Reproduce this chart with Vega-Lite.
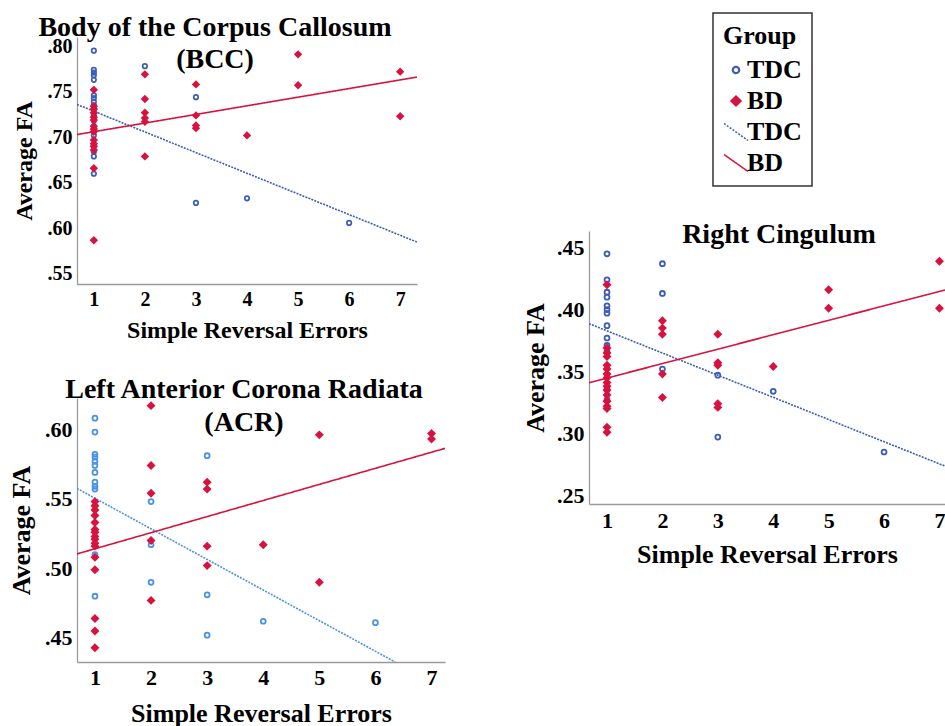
{
  "$schema": "https://vega.github.io/schema/vega-lite/v6.json",
  "padding": {"left": 8, "top": 12, "right": 0, "bottom": 0},
  "background": "white",
  "datasets": {
    "bcc_pts": [
      {"errors": 1, "fa": 0.795, "group": "TDC"}, {"errors": 1, "fa": 0.774, "group": "TDC"}, {"errors": 1, "fa": 0.771, "group": "TDC"}, {"errors": 1, "fa": 0.768, "group": "TDC"}, {"errors": 1, "fa": 0.763, "group": "TDC"}, {"errors": 1, "fa": 0.746, "group": "TDC"}, {"errors": 1, "fa": 0.743, "group": "TDC"}, {"errors": 1, "fa": 0.739, "group": "TDC"}, {"errors": 1, "fa": 0.735, "group": "TDC"}, {"errors": 1, "fa": 0.730, "group": "TDC"}, {"errors": 1, "fa": 0.724, "group": "TDC"}, {"errors": 1, "fa": 0.718, "group": "TDC"}, {"errors": 1, "fa": 0.712, "group": "TDC"}, {"errors": 1, "fa": 0.708, "group": "TDC"}, {"errors": 1, "fa": 0.702, "group": "TDC"}, {"errors": 1, "fa": 0.690, "group": "TDC"}, {"errors": 1, "fa": 0.684, "group": "TDC"}, {"errors": 1, "fa": 0.679, "group": "TDC"}, {"errors": 1, "fa": 0.660, "group": "TDC"},
      {"errors": 2, "fa": 0.778, "group": "TDC"}, {"errors": 3, "fa": 0.744, "group": "TDC"}, {"errors": 3, "fa": 0.628, "group": "TDC"}, {"errors": 4, "fa": 0.633, "group": "TDC"}, {"errors": 6, "fa": 0.606, "group": "TDC"},
      {"errors": 1, "fa": 0.752, "group": "BD"}, {"errors": 1, "fa": 0.734, "group": "BD"}, {"errors": 1, "fa": 0.731, "group": "BD"}, {"errors": 1, "fa": 0.727, "group": "BD"}, {"errors": 1, "fa": 0.722, "group": "BD"}, {"errors": 1, "fa": 0.719, "group": "BD"}, {"errors": 1, "fa": 0.712, "group": "BD"}, {"errors": 1, "fa": 0.709, "group": "BD"}, {"errors": 1, "fa": 0.706, "group": "BD"}, {"errors": 1, "fa": 0.697, "group": "BD"}, {"errors": 1, "fa": 0.693, "group": "BD"}, {"errors": 1, "fa": 0.690, "group": "BD"}, {"errors": 1, "fa": 0.686, "group": "BD"}, {"errors": 1, "fa": 0.666, "group": "BD"}, {"errors": 1, "fa": 0.587, "group": "BD"},
      {"errors": 2, "fa": 0.769, "group": "BD"}, {"errors": 2, "fa": 0.742, "group": "BD"}, {"errors": 2, "fa": 0.727, "group": "BD"}, {"errors": 2, "fa": 0.721, "group": "BD"}, {"errors": 2, "fa": 0.717, "group": "BD"}, {"errors": 2, "fa": 0.679, "group": "BD"},
      {"errors": 3, "fa": 0.758, "group": "BD"}, {"errors": 3, "fa": 0.724, "group": "BD"}, {"errors": 3, "fa": 0.713, "group": "BD"}, {"errors": 3, "fa": 0.710, "group": "BD"},
      {"errors": 4, "fa": 0.702, "group": "BD"}, {"errors": 5, "fa": 0.791, "group": "BD"}, {"errors": 5, "fa": 0.757, "group": "BD"}, {"errors": 7, "fa": 0.772, "group": "BD"}, {"errors": 7, "fa": 0.723, "group": "BD"}
    ],
    "bcc_fit": [
      {"errors": 0.67, "fa": 0.736, "group": "TDC fit"}, {"errors": 7.33, "fa": 0.585, "group": "TDC fit"},
      {"errors": 0.67, "fa": 0.703, "group": "BD fit"}, {"errors": 7.33, "fa": 0.766, "group": "BD fit"}
    ],
    "acr_pts": [
      {"errors": 1, "fa": 0.608, "group": "TDC"}, {"errors": 1, "fa": 0.598, "group": "TDC"}, {"errors": 1, "fa": 0.582, "group": "TDC"}, {"errors": 1, "fa": 0.580, "group": "TDC"}, {"errors": 1, "fa": 0.577, "group": "TDC"}, {"errors": 1, "fa": 0.574, "group": "TDC"}, {"errors": 1, "fa": 0.569, "group": "TDC"}, {"errors": 1, "fa": 0.562, "group": "TDC"}, {"errors": 1, "fa": 0.559, "group": "TDC"}, {"errors": 1, "fa": 0.557, "group": "TDC"}, {"errors": 1, "fa": 0.510, "group": "TDC"}, {"errors": 1, "fa": 0.480, "group": "TDC"},
      {"errors": 2, "fa": 0.548, "group": "TDC"}, {"errors": 2, "fa": 0.517, "group": "TDC"}, {"errors": 2, "fa": 0.490, "group": "TDC"},
      {"errors": 3, "fa": 0.581, "group": "TDC"}, {"errors": 3, "fa": 0.481, "group": "TDC"}, {"errors": 3, "fa": 0.452, "group": "TDC"},
      {"errors": 4, "fa": 0.462, "group": "TDC"}, {"errors": 6, "fa": 0.461, "group": "TDC"},
      {"errors": 1, "fa": 0.548, "group": "BD"}, {"errors": 1, "fa": 0.545, "group": "BD"}, {"errors": 1, "fa": 0.542, "group": "BD"}, {"errors": 1, "fa": 0.538, "group": "BD"}, {"errors": 1, "fa": 0.533, "group": "BD"}, {"errors": 1, "fa": 0.528, "group": "BD"}, {"errors": 1, "fa": 0.526, "group": "BD"}, {"errors": 1, "fa": 0.523, "group": "BD"}, {"errors": 1, "fa": 0.521, "group": "BD"}, {"errors": 1, "fa": 0.518, "group": "BD"}, {"errors": 1, "fa": 0.516, "group": "BD"}, {"errors": 1, "fa": 0.508, "group": "BD"}, {"errors": 1, "fa": 0.499, "group": "BD"}, {"errors": 1, "fa": 0.464, "group": "BD"}, {"errors": 1, "fa": 0.455, "group": "BD"}, {"errors": 1, "fa": 0.443, "group": "BD"},
      {"errors": 2, "fa": 0.617, "group": "BD"}, {"errors": 2, "fa": 0.574, "group": "BD"}, {"errors": 2, "fa": 0.554, "group": "BD"}, {"errors": 2, "fa": 0.520, "group": "BD"}, {"errors": 2, "fa": 0.477, "group": "BD"},
      {"errors": 3, "fa": 0.562, "group": "BD"}, {"errors": 3, "fa": 0.557, "group": "BD"}, {"errors": 3, "fa": 0.516, "group": "BD"}, {"errors": 3, "fa": 0.502, "group": "BD"},
      {"errors": 4, "fa": 0.517, "group": "BD"}, {"errors": 5, "fa": 0.596, "group": "BD"}, {"errors": 5, "fa": 0.490, "group": "BD"}, {"errors": 7, "fa": 0.597, "group": "BD"}, {"errors": 7, "fa": 0.593, "group": "BD"}
    ],
    "acr_fit": [
      {"errors": 0.68, "fa": 0.5575, "group": "TDC fit"}, {"errors": 6.35, "fa": 0.4327, "group": "TDC fit"},
      {"errors": 0.68, "fa": 0.5104, "group": "BD fit"}, {"errors": 7.24, "fa": 0.5863, "group": "BD fit"}
    ],
    "rc_pts": [
      {"errors": 1, "fa": 0.445, "group": "TDC"}, {"errors": 1, "fa": 0.424, "group": "TDC"}, {"errors": 1, "fa": 0.414, "group": "TDC"}, {"errors": 1, "fa": 0.410, "group": "TDC"}, {"errors": 1, "fa": 0.403, "group": "TDC"}, {"errors": 1, "fa": 0.400, "group": "TDC"}, {"errors": 1, "fa": 0.397, "group": "TDC"}, {"errors": 1, "fa": 0.387, "group": "TDC"}, {"errors": 1, "fa": 0.377, "group": "TDC"}, {"errors": 1, "fa": 0.371, "group": "TDC"}, {"errors": 1, "fa": 0.366, "group": "TDC"}, {"errors": 1, "fa": 0.335, "group": "TDC"}, {"errors": 1, "fa": 0.327, "group": "TDC"},
      {"errors": 2, "fa": 0.437, "group": "TDC"}, {"errors": 2, "fa": 0.413, "group": "TDC"}, {"errors": 2, "fa": 0.352, "group": "TDC"},
      {"errors": 3, "fa": 0.347, "group": "TDC"}, {"errors": 3, "fa": 0.297, "group": "TDC"}, {"errors": 4, "fa": 0.334, "group": "TDC"}, {"errors": 6, "fa": 0.285, "group": "TDC"},
      {"errors": 1, "fa": 0.420, "group": "BD"}, {"errors": 1, "fa": 0.369, "group": "BD"}, {"errors": 1, "fa": 0.365, "group": "BD"}, {"errors": 1, "fa": 0.362, "group": "BD"}, {"errors": 1, "fa": 0.355, "group": "BD"}, {"errors": 1, "fa": 0.352, "group": "BD"}, {"errors": 1, "fa": 0.348, "group": "BD"}, {"errors": 1, "fa": 0.345, "group": "BD"}, {"errors": 1, "fa": 0.341, "group": "BD"}, {"errors": 1, "fa": 0.338, "group": "BD"}, {"errors": 1, "fa": 0.335, "group": "BD"}, {"errors": 1, "fa": 0.331, "group": "BD"}, {"errors": 1, "fa": 0.326, "group": "BD"}, {"errors": 1, "fa": 0.322, "group": "BD"}, {"errors": 1, "fa": 0.320, "group": "BD"}, {"errors": 1, "fa": 0.305, "group": "BD"}, {"errors": 1, "fa": 0.301, "group": "BD"},
      {"errors": 2, "fa": 0.391, "group": "BD"}, {"errors": 2, "fa": 0.385, "group": "BD"}, {"errors": 2, "fa": 0.380, "group": "BD"}, {"errors": 2, "fa": 0.348, "group": "BD"}, {"errors": 2, "fa": 0.329, "group": "BD"},
      {"errors": 3, "fa": 0.380, "group": "BD"}, {"errors": 3, "fa": 0.357, "group": "BD"}, {"errors": 3, "fa": 0.355, "group": "BD"}, {"errors": 3, "fa": 0.324, "group": "BD"}, {"errors": 3, "fa": 0.321, "group": "BD"},
      {"errors": 4, "fa": 0.354, "group": "BD"}, {"errors": 5, "fa": 0.416, "group": "BD"}, {"errors": 5, "fa": 0.401, "group": "BD"}, {"errors": 7, "fa": 0.439, "group": "BD"}, {"errors": 7, "fa": 0.401, "group": "BD"}
    ],
    "rc_fit": [
      {"errors": 0.675, "fa": 0.3886, "group": "TDC fit"}, {"errors": 7.1, "fa": 0.2736, "group": "TDC fit"},
      {"errors": 0.675, "fa": 0.3409, "group": "BD fit"}, {"errors": 7.1, "fa": 0.4158, "group": "BD fit"}
    ]
  },
  "hconcat": [
    {
      "spacing": 34,
      "vconcat": [
        {
          "width": 340, "height": 247,
          "title": {"text": ["Body of the Corpus Callosum", "(BCC)"], "fontSize": 28, "lineHeight": 32, "offset": -38, "dx": -32},
          "layer": [
            {
              "data": {"name": "bcc_fit"},
              "mark": {"type": "line", "strokeWidth": 1.6, "clip": true},
              "encoding": {
                "x": {"field": "errors", "type": "quantitative", "scale": {"domain": [0.67, 7.33], "nice": false, "zero": false}, "axis": {"values": [1,2,3,4,5,6,7], "format": "d", "title": "Simple Reversal Errors", "labelFontSize": 20, "titleFontSize": 24, "labelPadding": 5, "titlePadding": 9}},
                "y": {"field": "fa", "type": "quantitative", "scale": {"domain": [0.539, 0.81], "nice": false, "zero": false}, "axis": {"values": [0.55,0.6,0.65,0.7,0.75,0.8], "labelExpr": "replace(format(datum.value, '.2f'), '0.', '.')", "title": "Average FA", "labelFontSize": 20, "titleFontSize": 24, "labelPadding": 5, "titlePadding": 11}},
                "color": {"field": "group", "type": "nominal", "scale": {"domain": ["TDC", "BD", "TDC fit", "BD fit"], "range": ["#3d5cb8", "#d8123e", "#3d5cb8", "#d8123e"]},
                  "legend": {"title": "Group", "orient": "none", "legendX": 636, "legendY": -24, "labelExpr": "replace(datum.label, ' fit', '')", "symbolSize": 36, "strokeColor": "#333333", "padding": 10, "rowPadding": 5, "titlePadding": 8, "labelOffset": -2,
                    "encode": {"symbols": {"update": {"size": {"signal": "datum.value === 'TDC' ? 40 : datum.value === 'BD' ? 150 : 100"}, "fill": {"signal": "datum.value === 'BD' ? '#d8123e' : 'transparent'"}, "strokeDash": {"signal": "datum.value === 'TDC fit' ? [2, 1.5] : [1, 0]"}, "strokeWidth": {"signal": "datum.value === 'TDC' ? 2.2 : datum.value === 'BD' ? 0 : 1.5"}}}}}},
                "strokeDash": {"condition": {"test": "datum.group === 'TDC fit'", "value": [2, 1.2]}, "value": [1, 0]}
              }
            },
            {
              "data": {"name": "bcc_pts"},
              "mark": {"type": "point", "filled": false, "strokeWidth": 1.7, "opacity": 1},
              "encoding": {
                "x": {"field": "errors", "type": "quantitative"},
                "y": {"field": "fa", "type": "quantitative"},
                "color": {"field": "group", "type": "nominal"},
                "shape": {"field": "group", "type": "nominal", "scale": {"domain": ["TDC", "BD", "TDC fit", "BD fit"], "range": ["circle", "diamond", "M-2.4,-1.7L2.4,1.7", "M-2.4,-1.7L2.4,1.7"]},
                  "legend": {"title": "Group", "orient": "none", "legendX": 636, "legendY": -24, "labelExpr": "replace(datum.label, ' fit', '')", "symbolSize": 36, "strokeColor": "#333333", "padding": 10, "rowPadding": 5, "titlePadding": 8, "labelOffset": -2,
                    "encode": {"symbols": {"update": {"size": {"signal": "datum.value === 'TDC' ? 40 : datum.value === 'BD' ? 150 : 100"}, "fill": {"signal": "datum.value === 'BD' ? '#d8123e' : 'transparent'"}, "strokeDash": {"signal": "datum.value === 'TDC fit' ? [2, 1.5] : [1, 0]"}, "strokeWidth": {"signal": "datum.value === 'TDC' ? 2.2 : datum.value === 'BD' ? 0 : 1.5"}}}}}},
                "fill": {"condition": {"test": "datum.group === 'BD'", "value": "#d8123e"}, "value": "transparent"},
                "size": {"condition": {"test": "datum.group === 'BD'", "value": 70}, "value": 20},
                "strokeWidth": {"condition": {"test": "datum.group === 'BD'", "value": 0}, "value": 1.7}
              }
            }
          ]
        },
        {
          "width": 368, "height": 264,
          "title": {"text": ["Left Anterior Corona Radiata", "(ACR)"], "fontSize": 28, "lineHeight": 33, "offset": -39, "dx": -17},
          "layer": [
            {
              "data": {"name": "acr_fit"},
              "mark": {"type": "line", "strokeWidth": 1.6, "clip": true},
              "encoding": {
                "x": {"field": "errors", "type": "quantitative", "scale": {"domain": [0.68, 7.24], "nice": false, "zero": false}, "axis": {"values": [1,2,3,4,5,6,7], "format": "d", "title": "Simple Reversal Errors", "labelFontSize": 22, "titleFontSize": 26, "labelPadding": 5, "titlePadding": 12}},
                "y": {"field": "fa", "type": "quantitative", "scale": {"domain": [0.4327, 0.6225], "nice": false, "zero": false}, "axis": {"values": [0.45,0.5,0.55,0.6], "labelExpr": "replace(format(datum.value, '.2f'), '0.', '.')", "title": "Average FA", "labelFontSize": 22, "titleFontSize": 26, "labelPadding": 5, "titlePadding": 10}},
                "detail": {"field": "group", "type": "nominal"},
                "color": {"condition": {"test": "datum.group === 'TDC fit'", "value": "#4a92e6"}, "value": "#d8123e"},
                "strokeDash": {"condition": {"test": "datum.group === 'TDC fit'", "value": [2, 1.2]}, "value": [1, 0]}
              }
            },
            {
              "data": {"name": "acr_pts"},
              "mark": {"type": "point", "filled": false, "opacity": 1},
              "encoding": {
                "x": {"field": "errors", "type": "quantitative"},
                "y": {"field": "fa", "type": "quantitative"},
                "color": {"condition": {"test": "datum.group === 'TDC'", "value": "#4a92e6"}, "value": "#d8123e"},
                "shape": {"field": "group", "type": "nominal",
                  "legend": {"title": "Group", "orient": "none", "legendX": 636, "legendY": -24, "labelExpr": "replace(datum.label, ' fit', '')", "symbolSize": 36, "strokeColor": "#333333", "padding": 10, "rowPadding": 5, "titlePadding": 8, "labelOffset": -2,
                    "encode": {"symbols": {"update": {"size": {"signal": "datum.value === 'TDC' ? 40 : datum.value === 'BD' ? 150 : 100"}, "fill": {"signal": "datum.value === 'BD' ? '#d8123e' : 'transparent'"}, "strokeDash": {"signal": "datum.value === 'TDC fit' ? [2, 1.5] : [1, 0]"}, "strokeWidth": {"signal": "datum.value === 'TDC' ? 2.2 : datum.value === 'BD' ? 0 : 1.5"}}}}}},
                "fill": {"condition": {"test": "datum.group === 'BD'", "value": "#d8123e"}, "value": "transparent"},
                "size": {"condition": {"test": "datum.group === 'BD'", "value": 80}, "value": 24},
                "strokeWidth": {"condition": {"test": "datum.group === 'BD'", "value": 0}, "value": 1.8}
              }
            }
          ]
        }
      ]
    },
    {
      "spacing": 10,
      "vconcat": [
        {
          "width": 100, "height": 174,
          "data": {"values": []},
          "mark": {"type": "point"},
          "encoding": {}
        },
        {
          "width": 356, "height": 273,
          "title": {"text": "Right Cingulum", "fontSize": 28, "offset": -18, "dx": 12},
          "layer": [
            {
              "data": {"name": "rc_fit"},
              "mark": {"type": "line", "strokeWidth": 1.6, "clip": true},
              "encoding": {
                "x": {"field": "errors", "type": "quantitative", "scale": {"domain": [0.675, 7.1], "nice": false, "zero": false}, "axis": {"values": [1,2,3,4,5,6,7], "format": "d", "title": "Simple Reversal Errors", "labelFontSize": 22, "titleFontSize": 26, "labelPadding": 6, "titlePadding": 10}},
                "y": {"field": "fa", "type": "quantitative", "scale": {"domain": [0.243, 0.4634], "nice": false, "zero": false}, "axis": {"values": [0.25,0.3,0.35,0.4,0.45], "labelExpr": "replace(format(datum.value, '.2f'), '0.', '.')", "title": "Average FA", "labelFontSize": 22, "titleFontSize": 26, "labelPadding": 5, "titlePadding": 8}},
                "color": {"field": "group", "type": "nominal",
                  "legend": {"title": "Group", "orient": "none", "legendX": 636, "legendY": -24, "labelExpr": "replace(datum.label, ' fit', '')", "symbolSize": 36, "strokeColor": "#333333", "padding": 10, "rowPadding": 5, "titlePadding": 8, "labelOffset": -2,
                    "encode": {"symbols": {"update": {"size": {"signal": "datum.value === 'TDC' ? 40 : datum.value === 'BD' ? 150 : 100"}, "fill": {"signal": "datum.value === 'BD' ? '#d8123e' : 'transparent'"}, "strokeDash": {"signal": "datum.value === 'TDC fit' ? [2, 1.5] : [1, 0]"}, "strokeWidth": {"signal": "datum.value === 'TDC' ? 2.2 : datum.value === 'BD' ? 0 : 1.5"}}}}}},
                "strokeDash": {"condition": {"test": "datum.group === 'TDC fit'", "value": [2, 1.2]}, "value": [1, 0]}
              }
            },
            {
              "data": {"name": "rc_pts"},
              "mark": {"type": "point", "filled": false, "opacity": 1},
              "encoding": {
                "x": {"field": "errors", "type": "quantitative"},
                "y": {"field": "fa", "type": "quantitative"},
                "color": {"field": "group", "type": "nominal"},
                "shape": {"field": "group", "type": "nominal"},
                "fill": {"condition": {"test": "datum.group === 'BD'", "value": "#d8123e"}, "value": "transparent"},
                "size": {"condition": {"test": "datum.group === 'BD'", "value": 80}, "value": 24},
                "strokeWidth": {"condition": {"test": "datum.group === 'BD'", "value": 0}, "value": 1.8}
              }
            }
          ]
        }
      ]
    }
  ],
  "spacing": 77,
  "config": {
    "view": {"stroke": null},
    "font": "Liberation Serif",
    "title": {"font": "Liberation Serif", "fontWeight": "bold", "color": "black", "anchor": "middle", "frame": "group"},
    "axis": {"grid": false, "ticks": false, "domainColor": "#9a9a9a", "domainWidth": 1.3, "labelFont": "Liberation Serif", "labelFontWeight": "bold", "labelColor": "black", "titleFont": "Liberation Serif", "titleFontWeight": "bold", "titleColor": "black", "labelOverlap": false, "labelFlush": false},
    "legend": {"titleFont": "Liberation Serif", "titleFontWeight": "bold", "titleFontSize": 26, "titleColor": "black", "labelFont": "Liberation Serif", "labelFontWeight": "bold", "labelFontSize": 26, "labelColor": "black", "strokeWidth": 1.5}
  }
}
